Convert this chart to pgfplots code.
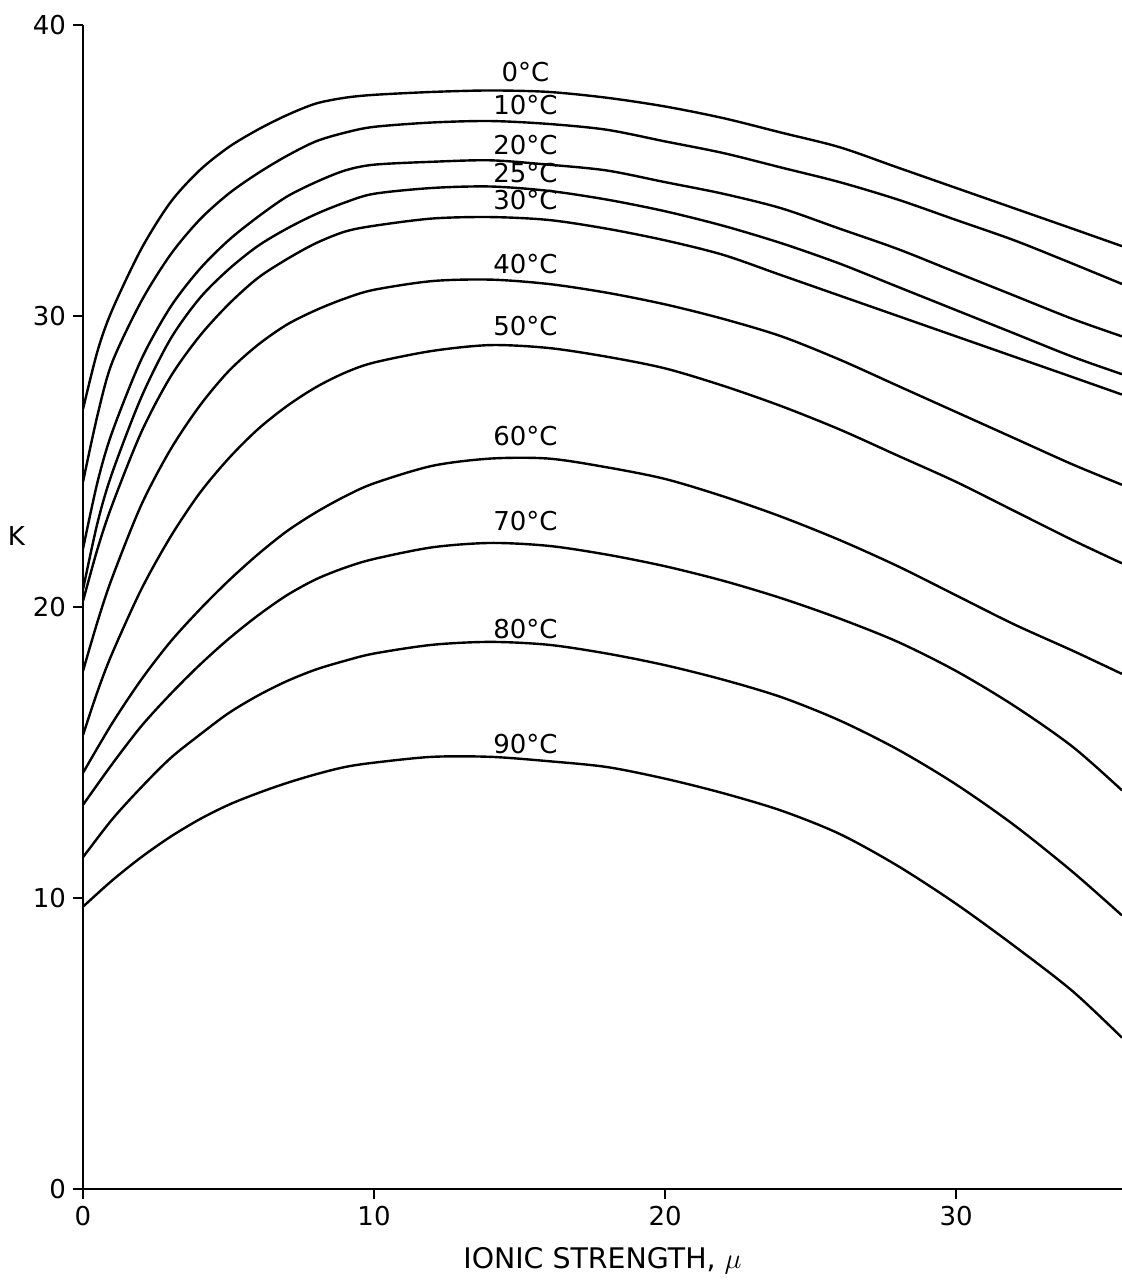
\documentclass[border=0pt]{standalone}
\usepackage{fontspec}
\setmainfont{DejaVu Sans}
\usepackage{pgfplots}
\pgfplotsset{compat=1.18}
\pgfplotsset{curve/.style={black, solid, line width=1.2pt, smooth, mark=none}}
\begin{document}
\begin{tikzpicture}
\begin{axis}[
  scale only axis, width=519.5pt, height=582pt,
  xmin=0, xmax=35.7, ymin=0, ymax=40,
  axis lines*=left,
  axis line style={line width=1.3pt},
  xtick={0,10,20,30}, ytick={0,10,20,30,40},
  tick align=outside, major tick length=5pt,
  tick style={line width=1pt, black},
  /pgf/number format/assume math mode=true,
  ticklabel style={font=\fontsize{13}{15}\selectfont},
  xlabel={IONIC STRENGTH, $\mu$},
  xlabel style={font=\fontsize{14.2}{17}\selectfont, at={(axis description cs:0.5,-0.062)}, anchor=center},
  ylabel={K},
  ylabel style={font=\fontsize{13}{15}\selectfont, rotate=-90, at={(axis description cs:-0.064,0.561)}, anchor=center},
]
% 0 C
\addplot[curve] coordinates {(0,26.8) (0.5,28.8) (1,30.2) (2,32.3) (3,33.9) (4,35.0) (5,35.8) (6,36.4) (7,36.9) (8,37.3) (9,37.5) (10,37.6) (12,37.7) (14,37.75) (16,37.7) (18,37.5) (20,37.2) (22,36.8) (24,36.3) (26,35.8) (28,35.1) (30,34.4) (32,33.7) (34,33.0) (35.7,32.4)};
% 10 C
\addplot[curve] coordinates {(0,24.3) (0.5,26.6) (1,28.4) (2,30.5) (3,32.1) (4,33.3) (5,34.2) (6,34.9) (7,35.5) (8,36.0) (9,36.3) (10,36.5) (12,36.65) (14,36.7) (16,36.6) (18,36.4) (20,36.0) (22,35.6) (24,35.1) (26,34.6) (28,34.0) (30,33.3) (32,32.6) (34,31.8) (35.7,31.1)};
% 20 C
\addplot[curve] coordinates {(0,22.0) (0.5,24.3) (1,26.0) (2,28.5) (3,30.3) (4,31.6) (5,32.6) (6,33.4) (7,34.1) (8,34.6) (9,35.0) (10,35.2) (12,35.3) (14,35.35) (16,35.2) (18,35.0) (20,34.6) (22,34.2) (24,33.7) (26,33.0) (28,32.3) (30,31.5) (32,30.7) (34,29.9) (35.7,29.3)};
% 25 C
\addplot[curve] coordinates {(0,20.6) (0.5,22.9) (1,24.6) (2,27.2) (3,29.2) (4,30.6) (5,31.6) (6,32.4) (7,33.0) (8,33.5) (9,33.9) (10,34.2) (12,34.4) (14,34.45) (16,34.3) (18,34.0) (20,33.6) (22,33.1) (24,32.5) (26,31.8) (28,31.0) (30,30.2) (32,29.4) (34,28.6) (35.7,28.0)};
% 30 C
\addplot[curve] coordinates {(0,20.2) (0.5,22.0) (1,23.5) (2,26.0) (3,27.9) (4,29.3) (5,30.4) (6,31.3) (7,31.95) (8,32.5) (9,32.9) (10,33.1) (12,33.35) (14,33.4) (16,33.3) (18,33.0) (20,32.6) (22,32.1) (24,31.4) (26,30.7) (28,30.0) (30,29.3) (32,28.6) (34,27.9) (35.7,27.3)};
% 40 C
\addplot[curve] coordinates {(0,17.8) (0.5,19.5) (1,21.0) (2,23.5) (3,25.4) (4,26.9) (5,28.1) (6,29.0) (7,29.7) (8,30.2) (9,30.6) (10,30.9) (12,31.2) (14,31.25) (16,31.1) (18,30.8) (20,30.4) (22,29.9) (24,29.3) (26,28.5) (28,27.6) (30,26.7) (32,25.8) (34,24.9) (35.7,24.2)};
% 50 C
\addplot[curve] coordinates {(0,15.6) (0.5,17.1) (1,18.4) (2,20.6) (3,22.4) (4,23.9) (5,25.1) (6,26.1) (7,26.9) (8,27.55) (9,28.05) (10,28.4) (12,28.8) (14,29.0) (16,28.9) (18,28.6) (20,28.2) (22,27.6) (24,26.9) (26,26.1) (28,25.2) (30,24.3) (32,23.3) (34,22.3) (35.7,21.5)};
% 60 C
\addplot[curve] coordinates {(0,14.3) (1,16.0) (2,17.5) (3,18.8) (4,19.9) (5,20.9) (6,21.8) (7,22.6) (8,23.25) (9,23.8) (10,24.25) (12,24.85) (14,25.1) (16,25.1) (18,24.8) (20,24.4) (22,23.8) (24,23.1) (26,22.3) (28,21.4) (30,20.4) (32,19.4) (34,18.5) (35.7,17.7)};
% 70 C
\addplot[curve] coordinates {(0,13.2) (1,14.6) (2,15.9) (3,17.0) (4,18.0) (5,18.9) (6,19.7) (7,20.4) (8,20.95) (9,21.35) (10,21.65) (12,22.05) (14,22.2) (16,22.1) (18,21.8) (20,21.4) (22,20.9) (24,20.3) (26,19.6) (28,18.8) (30,17.8) (32,16.6) (34,15.2) (35.7,13.7)};
% 80 C
\addplot[curve] coordinates {(0,11.4) (1,12.7) (2,13.8) (3,14.8) (4,15.6) (5,16.35) (6,16.95) (7,17.45) (8,17.85) (9,18.15) (10,18.4) (12,18.7) (14,18.8) (16,18.7) (18,18.4) (20,18.0) (22,17.5) (24,16.9) (26,16.1) (28,15.1) (30,13.9) (32,12.5) (34,10.9) (35.7,9.4)};
% 90 C
\addplot[curve] coordinates {(0,9.7) (1,10.6) (2,11.4) (3,12.1) (4,12.7) (5,13.2) (6,13.6) (7,13.95) (8,14.25) (9,14.5) (10,14.65) (12,14.85) (14,14.85) (16,14.7) (18,14.5) (20,14.1) (22,13.6) (24,13.0) (26,12.2) (28,11.1) (30,9.8) (32,8.35) (34,6.8) (35.7,5.2)};

\begin{scope}[every node/.style={font=\fontsize{13}{16}\selectfont, inner sep=0pt}]
\node at (axis cs:15.2,38.38) {0°C};
\node at (axis cs:15.2,37.24) {10°C};
\node at (axis cs:15.2,35.86) {20°C};
\node at (axis cs:15.2,34.90) {25°C};
\node at (axis cs:15.2,33.97) {30°C};
\node at (axis cs:15.2,31.80) {40°C};
\node at (axis cs:15.2,29.66) {50°C};
\node at (axis cs:15.2,25.86) {60°C};
\node at (axis cs:15.2,22.97) {70°C};
\node at (axis cs:15.2,19.24) {80°C};
\node at (axis cs:15.2,15.28) {90°C};
\end{scope}
\coordinate (bbsw) at (rel axis cs:-0.0799,-0.0808);
\coordinate (bbne) at (rel axis cs:1,1.0215);
\end{axis}
\pgfresetboundingbox
\path (bbsw) rectangle (bbne);
\end{tikzpicture}
\end{document}
